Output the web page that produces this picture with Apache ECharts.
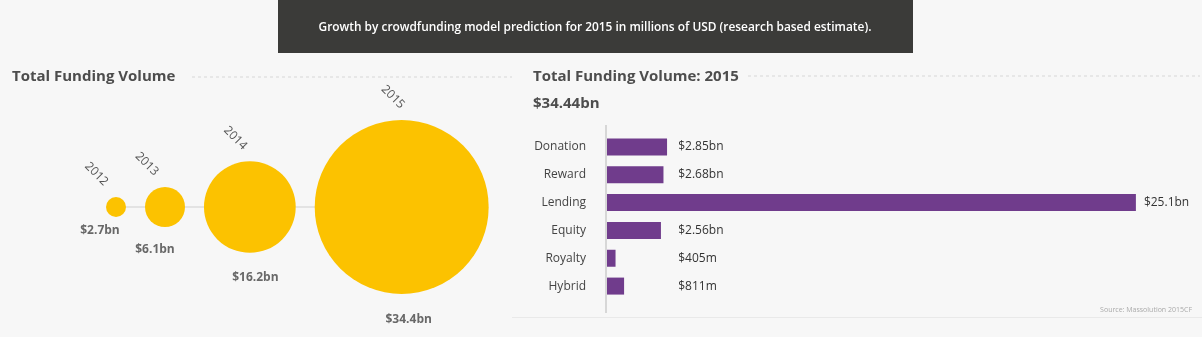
<!DOCTYPE html>
<html>
<head>
<meta charset="utf-8">
<script src="https://cdn.jsdelivr.net/npm/echarts@6/dist/echarts.min.js"></script>
<style>
  html, body { margin: 0; padding: 0; background: #f7f7f7; }
  #chart { width: 1202px; height: 337px; }
</style>
</head>
<body>
<div id="chart"></div>
<script>
// Total funding volume per year (billions USD)
const years = ['2012', '2013', '2014', '2015'];
const yearTotals = [2.7, 6.1, 16.2, 34.4];

// 2015 volume by crowdfunding model (billions USD)
const models = ['Donation', 'Reward', 'Lending', 'Equity', 'Royalty', 'Hybrid'];
const modelVolumes = [2.85, 2.68, 25.1, 2.56, 0.405, 0.811];
const total2015 = '$34.44bn';

const FONT = '"Open Sans", "Noto Sans", sans-serif';
const YELLOW = '#fcc200';
const PURPLE = '#703c8c';

// Bubble diameter grows with the yearly total
const diameter = v => 20 * Math.pow(v / 2.7, 0.85);
const sizes = yearTotals.map(diameter);

// Bubbles sit in a row, each one a fixed gap after the previous one
const GAP = 19;
const centers = [];
sizes.forEach((d, i) => {
  if (i === 0) centers.push(116);
  else centers.push(centers[i - 1] + sizes[i - 1] / 2 + GAP + d / 2);
});

const bubbleData = yearTotals.map((v, i) => ({
  value: [centers[i], 'row', v],
  symbolSize: sizes[i],
  label: {
    show: true,
    formatter: years[i],
    position: [sizes[i] / 2 - 21 + 0.07 * sizes[i], -23],
    align: 'center',
    verticalAlign: 'middle',
    rotate: -45,
    fontFamily: FONT,
    fontSize: 12,
    color: '#555'
  }
}));

// Totals are written under each bubble, drifting right as bubbles grow
const totalLabelData = yearTotals.map((v, i) => {
  const d = sizes[i];
  const dx = Math.min(7, -22 + 0.3 * d);
  const dy = 25.5 - 12 * Math.pow(20 / d, 2);
  return {
    value: [centers[i], 'row', v],
    symbolSize: d,
    label: {
      show: true,
      formatter: '$' + v + 'bn',
      position: [d / 2 + dx, d + dy],
      align: 'center',
      verticalAlign: 'middle',
      fontFamily: FONT,
      fontWeight: 'bold',
      fontSize: 12,
      color: '#444'
    }
  };
});

// Value labels: bars shorter than LABEL_MIN get their label at a common column
const LABEL_MIN = 3.0;
const fmtVolume = v => v >= 1 ? '$' + v + 'bn' : '$' + Math.round(v * 1000) + 'm';

const chart = echarts.init(document.getElementById('chart'), null, { renderer: 'canvas' });

chart.setOption({
  backgroundColor: '#f7f7f7',
  animation: false,
  textStyle: { fontFamily: FONT },
  grid: [
    { left: 0, width: 600, top: 197, height: 20 },
    { left: 607, width: 590, top: 133, height: 167 }
  ],
  xAxis: [
    { gridIndex: 0, type: 'value', min: 0, max: 600, show: false },
    { gridIndex: 1, type: 'value', min: 0, max: 28, show: false }
  ],
  yAxis: [
    { gridIndex: 0, type: 'category', data: ['row'], show: false },
    {
      gridIndex: 1,
      type: 'category',
      data: models,
      inverse: true,
      axisLine: { show: false },
      axisTick: { show: false },
      axisLabel: { margin: 21, fontFamily: FONT, fontSize: 12, color: '#444' }
    }
  ],
  graphic: [
    { type: 'rect', shape: { x: 278, y: 0, width: 635, height: 53 }, style: { fill: '#3b3b39' } },
    {
      type: 'text', x: 595, y: 28,
      style: {
        text: 'Growth by crowdfunding model prediction for 2015 in millions of USD (research based estimate).',
        fill: '#ffffff', font: '600 11.9px "Open Sans", sans-serif', align: 'center', verticalAlign: 'middle'
      }
    },
    {
      type: 'text', x: 12, y: 77,
      style: { text: 'Total Funding Volume', fill: '#4d4d4d', font: 'bold 15px "Open Sans", sans-serif', verticalAlign: 'middle' }
    },
    {
      type: 'line', shape: { x1: 192, y1: 77, x2: 512, y2: 77 },
      style: { stroke: '#d8d8d8', lineWidth: 1, lineDash: [3, 3] }
    },
    {
      type: 'text', x: 533, y: 77,
      style: { text: 'Total Funding Volume: 2015', fill: '#4d4d4d', font: 'bold 15px "Open Sans", sans-serif', verticalAlign: 'middle' }
    },
    {
      type: 'line', shape: { x1: 748, y1: 76, x2: 1200, y2: 76 },
      style: { stroke: '#d8d8d8', lineWidth: 1, lineDash: [3, 3] }
    },
    {
      type: 'text', x: 533, y: 104,
      style: { text: total2015, fill: '#4d4d4d', font: 'bold 15px "Open Sans", sans-serif', verticalAlign: 'middle' }
    },
    {
      type: 'line', shape: { x1: 606, y1: 125, x2: 606, y2: 313 },
      style: { stroke: '#cccccc', lineWidth: 1.5 }
    },
    {
      type: 'line', shape: { x1: 512, y1: 317.5, x2: 1202, y2: 317.5 },
      style: { stroke: '#e9e9e9', lineWidth: 1 }
    },
    {
      type: 'text', x: 1192, y: 310,
      style: { text: 'Source: Massolution 2015CF', fill: '#aaaaaa', font: '7px "Open Sans", sans-serif', align: 'right', verticalAlign: 'middle' }
    }
  ],
  series: [
    {
      type: 'line',
      xAxisIndex: 0, yAxisIndex: 0,
      data: yearTotals.map((v, i) => [centers[i], 'row']),
      symbol: 'none',
      lineStyle: { color: '#cfcfcf', width: 1 },
      z: 1,
      silent: true
    },
    {
      type: 'scatter',
      xAxisIndex: 0, yAxisIndex: 0,
      data: bubbleData,
      itemStyle: { color: YELLOW, opacity: 1 },
      z: 3
    },
    {
      type: 'scatter',
      xAxisIndex: 0, yAxisIndex: 0,
      data: totalLabelData,
      itemStyle: { color: 'rgba(0,0,0,0)' },
      z: 4,
      silent: true
    },
    {
      type: 'bar',
      xAxisIndex: 1, yAxisIndex: 1,
      data: modelVolumes,
      barWidth: 17,
      itemStyle: { color: PURPLE },
      z: 3
    },
    {
      type: 'bar',
      xAxisIndex: 1, yAxisIndex: 1,
      data: modelVolumes.map(v => Math.max(v, LABEL_MIN)),
      barWidth: 17,
      barGap: '-100%',
      itemStyle: { color: 'rgba(0,0,0,0)' },
      silent: true,
      z: 2,
      label: {
        show: true,
        position: 'right',
        distance: 8,
        fontFamily: FONT,
        fontSize: 12,
        color: '#333',
        formatter: p => fmtVolume(modelVolumes[p.dataIndex])
      }
    }
  ]
});
</script>
</body>
</html>
